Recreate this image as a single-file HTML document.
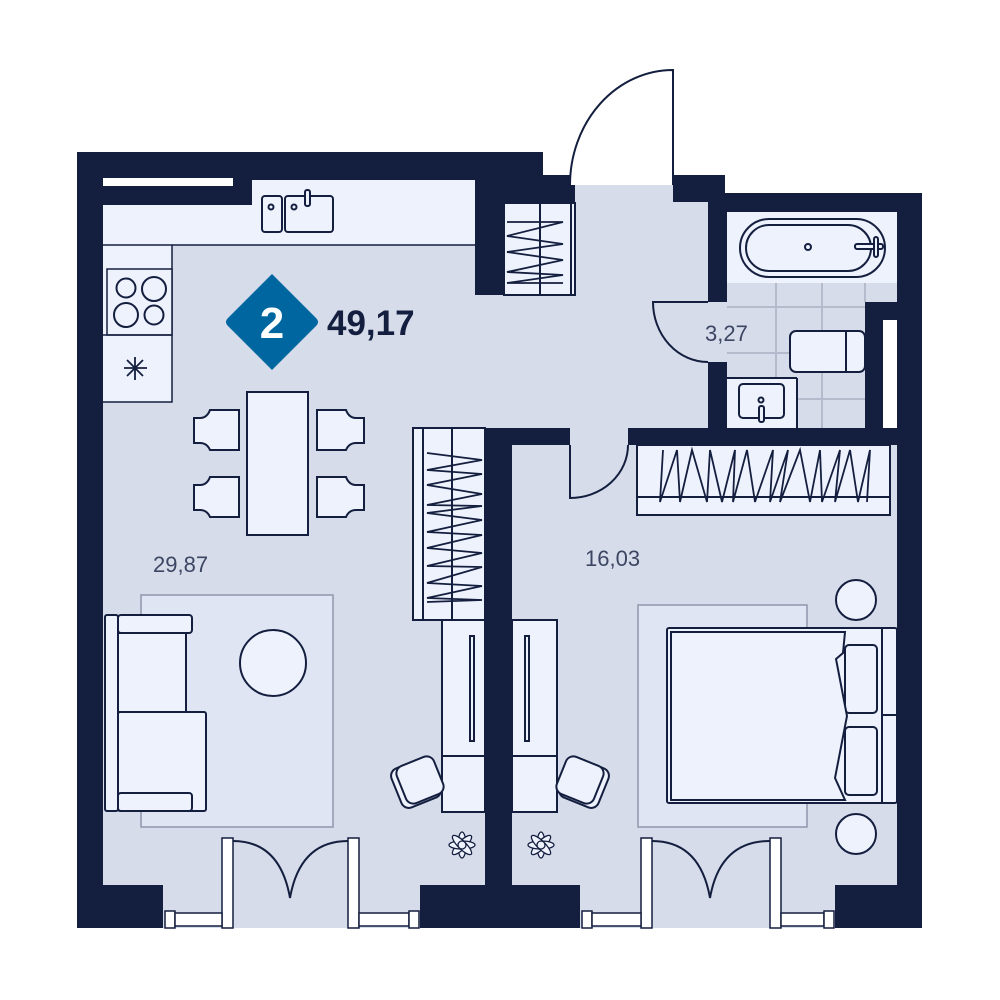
<!DOCTYPE html>
<html><head><meta charset="utf-8"><style>
html,body{margin:0;padding:0;background:#fff}
svg{display:block}
text{font-family:"Liberation Sans",sans-serif}
</style></head><body>
<svg width="1000" height="1000" viewBox="0 0 1000 1000" xmlns="http://www.w3.org/2000/svg">
<path d="M77,152 H543 V175 H570 V185 H673 V175 H725 V193 H922 V928 H77 Z" fill="#141f3f"/>
<g fill="#d6dcea">
<path d="M103,205 H252 V180 H475 V295 H504 V203 H575 V295 H575 V185 H673 V202 H708 V428 H485 V885 H103 Z"/>
<rect x="727" y="212" width="170" height="216"/>
<rect x="512" y="445" width="385" height="440"/>
<rect x="570" y="428" width="58" height="17"/>
<rect x="708" y="302" width="19" height="60"/>
<rect x="163" y="885" width="257" height="43"/>
<rect x="580" y="885" width="255" height="43"/>
</g>
<rect x="865" y="302" width="32" height="126" fill="#141f3f"/>
<rect x="883" y="320" width="14" height="108" fill="#fff"/>
<rect x="103" y="178" width="130" height="8" fill="#fff"/>
<g stroke="#b4bbcc" stroke-width="2">
<line x1="776" y1="283" x2="776" y2="428"/><line x1="822" y1="283" x2="822" y2="428"/><line x1="865" y1="283" x2="865" y2="302"/>
<line x1="727" y1="307" x2="865" y2="307"/><line x1="727" y1="353" x2="865" y2="353"/><line x1="727" y1="399" x2="865" y2="399"/>
</g>
<g fill="#eef2fd" stroke="#141f3f" stroke-width="2">
<path d="M103,205 H252 V180 H475 V245 H172 V402 H103 Z" stroke="none"/>
<path d="M103,245 H172 V402 H103" fill="none" stroke-width="1.5"/>
<line x1="172" y1="245" x2="475" y2="245" stroke-width="1.5"/>
<rect x="107" y="269" width="65" height="66" stroke-width="1.5"/>
<line x1="103" y1="335" x2="172" y2="335" stroke-width="1.5"/>
<circle cx="126" cy="288" r="9.5"/><circle cx="154" cy="289" r="12"/><circle cx="126" cy="315" r="12"/><circle cx="154" cy="315" r="9.5"/>
<rect x="262" y="196" width="20" height="36" rx="3"/>
<rect x="285" y="196" width="48" height="36" rx="3"/>
<circle cx="271" cy="207" r="2.5"/><circle cx="294" cy="207" r="2.5"/>
<rect x="305" y="190" width="5" height="16" rx="2"/>
<rect x="504" y="203" width="71" height="92"/>
<line x1="540" y1="203" x2="540" y2="295"/>
<line x1="571" y1="203" x2="571" y2="295"/>
<rect x="247" y="392" width="61" height="143"/>
<path d="M210,410 H239 V450 H210 Q207,443 200,443 H194 V418 H200 Q207,418 210,410 Z"/>
<path d="M210,477 H239 V517 H210 Q207,510 200,510 H194 V485 H200 Q207,485 210,477 Z"/>
<path d="M346,410 H317 V450 H346 Q349,443 356,443 H364 V418 H356 Q349,418 346,410 Z"/>
<path d="M346,477 H317 V517 H346 Q349,510 356,510 H364 V485 H356 Q349,485 346,477 Z"/>
</g>
<g stroke="#141f3f" stroke-width="1.8">
<line x1="135" y1="357" x2="135" y2="380"/><line x1="124" y1="368" x2="147" y2="368"/><line x1="127" y1="360" x2="143" y2="376"/><line x1="143" y1="360" x2="127" y2="376"/>
</g>
<g stroke="#141f3f" stroke-width="1.8" fill="none">
<polyline points="507,222 563,222 507,236 563,244 507,252 563,260 507,272 563,275 507,283 563,283"/>
</g>
<rect x="141" y="595" width="192" height="232" fill="#dfe5f3" stroke="#8f97ab" stroke-width="1.5"/>
<rect x="638" y="605" width="169" height="222" fill="#dfe5f3" stroke="#8f97ab" stroke-width="1.5"/>
<g fill="#eef2fd" stroke="#141f3f" stroke-width="2">
<circle cx="273" cy="663" r="33"/>
<rect x="105" y="615" width="13" height="196" rx="2"/>
<rect x="118" y="712" width="88" height="99" rx="2"/>
<rect x="118" y="633" width="68" height="79"/>
<rect x="118" y="615" width="74" height="18" rx="3"/>
<rect x="118" y="793" width="74" height="18" rx="3"/>
<rect x="413" y="428" width="72" height="192"/>
<line x1="423" y1="428" x2="423" y2="620"/><line x1="452" y1="428" x2="452" y2="620"/>
<rect x="442" y="620" width="43" height="192"/>
<line x1="442" y1="756" x2="485" y2="756"/>
<rect x="470" y="636" width="4" height="105"/>
<rect x="512" y="620" width="45" height="192"/>
<line x1="512" y1="756" x2="557" y2="756"/>
<rect x="525" y="636" width="4" height="105"/>
<rect x="395" y="762" width="42" height="42" rx="8" transform="rotate(-22 416 783)"/>
<rect x="400" y="760" width="40" height="40" rx="8" transform="rotate(-22 420 780)"/>
<rect x="563" y="762" width="42" height="42" rx="8" transform="rotate(22 584 783)"/>
<rect x="560" y="760" width="40" height="40" rx="8" transform="rotate(22 580 780)"/>
<rect x="637" y="445" width="253" height="70"/>
<line x1="637" y1="497" x2="890" y2="497"/>
<circle cx="856" cy="600" r="20"/>
<circle cx="856" cy="834" r="20"/>
<rect x="667" y="628" width="230" height="175" rx="2"/>
<line x1="882" y1="628" x2="882" y2="803"/>
<line x1="882" y1="715" x2="897" y2="715"/>
<rect x="845" y="645" width="32" height="68" rx="4"/>
<rect x="845" y="727" width="32" height="68" rx="4"/>
<path d="M671,632 H845 L843,653 L836,659 L847,716 L835,778 L845,800 H671 Z"/>
<rect x="727" y="212" width="170" height="71" stroke="none"/>
<rect x="740" y="219" width="145" height="58" rx="29"/>
<rect x="746" y="225" width="125" height="46" rx="23"/>
<circle cx="808" cy="247" r="3"/>
<rect x="855" y="244" width="28" height="5" rx="2"/>
<rect x="874" y="237" width="4" height="20" rx="2"/>
<rect x="790" y="331" width="75" height="41" rx="6"/>
<line x1="846" y1="331" x2="846" y2="372"/>
<rect x="727" y="378" width="70" height="50" stroke="none"/>
<line x1="797" y1="378" x2="797" y2="428"/><line x1="727" y1="378" x2="797" y2="378"/>
<rect x="739" y="384" width="45" height="34" rx="4"/>
<circle cx="761" cy="400" r="2.5"/>
<rect x="759" y="406" width="5" height="16" rx="2"/>
</g>
<g stroke="#141f3f" stroke-width="1.8" fill="none">
<polyline points="427,453 482,460 427,470 482,474 427,485 482,494 427,505 482,506 427,513 482,520 427,532 482,535 427,548 482,553 427,566 482,567 427,583 482,586 427,598 482,600 427,602"/>
<polyline points="663,450 660,502 677,450 680,502 692,450 707,502 710,450 722,502 735,450 733,502 747,450 755,502 773,450 770,502 788,450 780,502 800,450 810,502 820,450 822,502 840,450 835,502 850,450 858,502 870,450 867,502"/>
</g>
<g fill="#eef2fd" stroke="#141f3f" stroke-width="1.3">
<g transform="translate(462,845)">
<ellipse rx="4" ry="13"/><ellipse rx="4" ry="13" transform="rotate(45)"/><ellipse rx="4" ry="13" transform="rotate(90)"/><ellipse rx="4" ry="13" transform="rotate(135)"/><circle r="4"/>
</g>
<g transform="translate(541,845)">
<ellipse rx="4" ry="13"/><ellipse rx="4" ry="13" transform="rotate(45)"/><ellipse rx="4" ry="13" transform="rotate(90)"/><ellipse rx="4" ry="13" transform="rotate(135)"/><circle r="4"/>
</g>
</g>
<g fill="none" stroke="#141f3f" stroke-width="2">
<path d="M673,185 V70 A103,115 0 0 0 570,185"/>
<path d="M708,302 H653 A55,60 0 0 0 708,362"/>
<path d="M570,445 V498 A58,53 0 0 0 628,445"/>
<path d="M233,841 Q280,841 290,898 Q300,841 348,841"/>
<path d="M652,841 Q700,841 710,898 Q720,841 770,841"/>
</g>
<g fill="#fff" stroke="#141f3f" stroke-width="1.5">
<rect x="222" y="838" width="11" height="90"/><rect x="348" y="838" width="11" height="90"/>
<rect x="641" y="838" width="11" height="90"/><rect x="770" y="838" width="11" height="90"/>
<rect x="165" y="911" width="10" height="17"/><rect x="175" y="913" width="47" height="13"/>
<rect x="359" y="913" width="50" height="13"/><rect x="409" y="911" width="10" height="17"/>
<rect x="582" y="911" width="10" height="17"/><rect x="592" y="913" width="49" height="13"/>
<rect x="781" y="913" width="43" height="13"/><rect x="824" y="911" width="10" height="17"/>
</g>
<path d="M272,274 L316,318 Q320,322 316,326 L272,370 L228,326 Q224,322 228,318 Z" fill="#0066a0"/>
<text x="272" y="338" font-size="44" font-weight="bold" fill="#fff" text-anchor="middle">2</text>
<text x="327" y="335" font-size="35" font-weight="bold" fill="#141f3f">49,17</text>
<text x="153" y="572" font-size="22" fill="#3c4663">29,87</text>
<text x="585" y="566" font-size="22" fill="#3c4663">16,03</text>
<text x="705" y="341" font-size="22" fill="#3c4663">3,27</text>
</svg>
</body></html>
